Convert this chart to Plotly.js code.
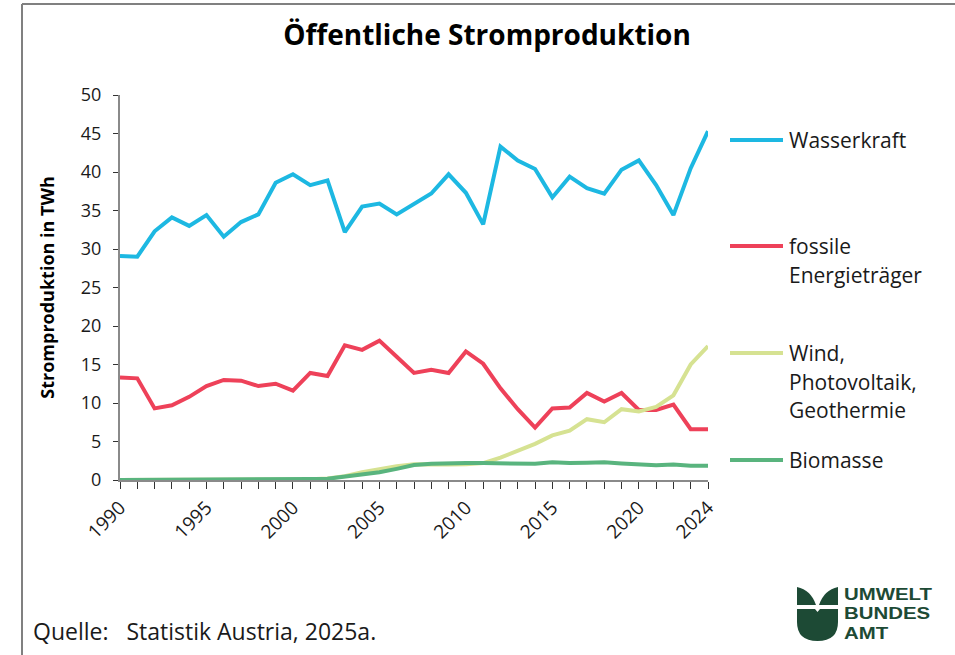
<!DOCTYPE html>
<html>
<head>
<meta charset="utf-8">
<script src="https://cdn.plot.ly/plotly-3.0.1.min.js"></script>
<style>
  html, body { margin: 0; padding: 0; background: #ffffff; }
  #wrap { position: relative; width: 955px; height: 655px; }
  #chart { width: 955px; height: 655px; }
  #logotext { position: absolute; left: 844px; top: 584.5px; font-family: "Liberation Sans", Arimo, Arial, sans-serif;
    font-weight: bold; font-size: 17px; line-height: 19.5px; color: #1d4a35;
    transform: scaleX(1.2); transform-origin: left top; }
  #logotext div { height: 19.5px; white-space: nowrap; }
</style>
</head>
<body>
<div id="wrap">
<div id="chart"></div>
<div id="logotext"></div>
</div>
<script>
// ---------- data ----------
const years = [1990,1991,1992,1993,1994,1995,1996,1997,1998,1999,2000,2001,2002,2003,2004,2005,2006,2007,2008,2009,2010,2011,2012,2013,2014,2015,2016,2017,2018,2019,2020,2021,2022,2023,2024];

const wasserkraft = [29.1,29.0,32.3,34.1,33.0,34.4,31.6,33.5,34.5,38.6,39.7,38.3,38.9,32.2,35.5,35.9,34.5,35.8,37.2,39.7,37.3,33.2,43.3,41.5,40.4,36.7,39.4,37.9,37.2,40.3,41.5,38.3,34.4,40.5,45.3];

const fossil = [13.3,13.2,9.3,9.7,10.8,12.2,13.0,12.9,12.2,12.5,11.6,13.9,13.5,17.5,16.9,18.1,16.0,13.9,14.3,13.9,16.7,15.1,11.9,9.2,6.8,9.3,9.4,11.3,10.2,11.3,9.1,9.1,9.8,6.6,6.6];

const windPvGeo = [0.0,0.0,0.0,0.0,0.0,0.0,0.01,0.02,0.03,0.05,0.07,0.1,0.2,0.5,1.0,1.4,1.8,2.05,2.0,2.0,2.05,2.2,2.9,3.8,4.7,5.8,6.4,7.9,7.5,9.2,8.9,9.5,11.0,15.0,17.4];

const biomasse = [0.0,0.0,0.0,0.0,0.0,0.01,0.02,0.03,0.05,0.08,0.1,0.13,0.16,0.4,0.7,1.0,1.45,1.95,2.1,2.2,2.2,2.2,2.2,2.2,2.1,2.3,2.2,2.25,2.3,2.15,2.0,1.9,2.0,1.85,1.85];

const seriesNames = ["Wasserkraft", "fossile Energieträger", "Wind, Photovoltaik, Geothermie", "Biomasse"];
const legendLines = [["Wasserkraft"], ["fossile", "Energieträger"], ["Wind,", "Photovoltaik,", "Geothermie"], ["Biomasse"]];
const seriesColors = ["#1db8e2", "#ee4159", "#d6e292", "#59b47e"];

const xLabelYears = [1990, 1995, 2000, 2005, 2010, 2015, 2020, 2024];
const yTicks = [0, 5, 10, 15, 20, 25, 30, 35, 40, 45, 50];

const titleText = "Öffentliche Stromproduktion";
const yTitleText = "Stromproduktion in TWh";
const sourceText = "Quelle:&nbsp;&nbsp; Statistik Austria, 2025a.";
const logoLines = ["UMWELT", "BUNDES", "AMT"];

// ---------- geometry helpers (pixel -> paper) ----------
const W = 955, H = 655, mL = 120, mR = 247, mT = 95, mB = 175;
const pw = W - mL - mR, ph = H - mT - mB;
const px = p => (p - mL) / pw;
const py = p => (H - mB - p) / ph;

const FONT = "Open Sans, Noto Sans, DejaVu Sans, sans-serif";

const seriesData = [wasserkraft, fossil, windPvGeo, biomasse];
const traces = seriesData.map((vals, i) => ({
  type: "scatter",
  mode: "lines",
  x: years,
  y: vals,
  name: seriesNames[i],
  line: { color: seriesColors[i], width: 4 },
  showlegend: false,
  hoverinfo: "x+y+name"
}));

// legend (drawn as shapes + annotations)
const legendY = [140, 246, 353, 460];
const lineStep = 28.5;
const shapes = [];
const annotations = [];
legendLines.forEach((lines, i) => {
  shapes.push({
    type: "line", xref: "paper", yref: "paper",
    x0: px(730), x1: px(783), y0: py(legendY[i]), y1: py(legendY[i]),
    line: { color: seriesColors[i], width: 4 }
  });
  lines.forEach((t, j) => {
    annotations.push({
      text: t, xref: "paper", yref: "paper",
      x: px(787), y: py(legendY[i] + j * lineStep),
      xanchor: "left", yanchor: "middle", showarrow: false,
      font: { family: FONT, size: 21, color: "#1a1a1a" }
    });
  });
});

// source
annotations.push({
  text: sourceText, xref: "paper", yref: "paper",
  x: px(31), y: py(631), xanchor: "left", yanchor: "middle", showarrow: false,
  font: { family: FONT, size: 23, color: "#1a1a1a" }
});

// logo text (HTML overlay for tight line spacing)
document.getElementById("logotext").innerHTML = logoLines.map(t => "<div>" + t + "</div>").join("");

// frame lines
shapes.push({ type: "line", xref: "paper", yref: "paper", x0: px(22), x1: px(22), y0: py(4), y1: py(655), line: { color: "#808080", width: 2 } });
shapes.push({ type: "line", xref: "paper", yref: "paper", x0: px(22), x1: px(955), y0: py(4), y1: py(4), line: { color: "#808080", width: 2 } });

// logo icon (paths in pixel space converted to paper)
function pathPx(cmds) {
  return cmds.map(c => {
    if (typeof c === "string") return c;
    return px(c[0]).toFixed(5) + "," + py(c[1]).toFixed(5);
  }).join(" ");
}
const logoColor = "#1d4a35";
// left leaf
shapes.push({ type: "path", xref: "paper", yref: "paper", fillcolor: logoColor, line: { width: 0 },
  path: "M" + pathPx([[797, 587], "Q", [811, 590], [816, 605], "L", [797, 605], "Z"]) });
// right leaf
shapes.push({ type: "path", xref: "paper", yref: "paper", fillcolor: logoColor, line: { width: 0 },
  path: "M" + pathPx([[838, 587], "Q", [824, 590], [819, 605], "L", [838, 605], "Z"]) });
// bowl
shapes.push({ type: "path", xref: "paper", yref: "paper", fillcolor: logoColor, line: { width: 0 },
  path: "M" + pathPx([[797, 609], "L", [815, 609], "L", [817.5, 612], "L", [820, 609], "L", [838, 609], "L", [838, 622], "Q", [838, 641], [817.5, 641], "Q", [797, 641], [797, 622], "Z"]) });

const layout = {
  width: W, height: H,
  margin: { l: mL, r: mR, t: mT, b: mB, pad: 0 },
  paper_bgcolor: "#ffffff",
  plot_bgcolor: "#ffffff",
  title: {
    text: "<b>" + titleText + "</b>",
    xref: "container", x: 0.51, xanchor: "center",
    yref: "container", y: 1 - 35 / H, yanchor: "middle",
    font: { family: FONT, size: 28, color: "#000000" }
  },
  xaxis: {
    range: [1990, 2024],
    tickmode: "array",
    tickvals: years,
    ticktext: years.map(y => xLabelYears.includes(y) ? String(y) : ""),
    tickangle: -45,
    ticks: "outside", ticklen: 7, tickwidth: 1, tickcolor: "#333333",
    showline: true, linecolor: "#8a8a8a", linewidth: 2,
    showgrid: false, zeroline: false,
    tickfont: { family: FONT, size: 19, color: "#1a1a1a" },
    fixedrange: true
  },
  yaxis: {
    range: [0, 50],
    tickmode: "array",
    tickvals: yTicks,
    ticktext: yTicks.map(String),
    ticks: "outside", ticklen: 5, tickwidth: 1, tickcolor: "#333333",
    showline: true, linecolor: "#8a8a8a", linewidth: 2,
    showgrid: false, zeroline: false,
    ticklabelstandoff: 8,
    tickfont: { family: FONT, size: 18, color: "#1a1a1a" },
    title: { text: "<b>" + yTitleText + "</b>", standoff: 22, font: { family: FONT, size: 18, color: "#000000" } },
    automargin: false,
    fixedrange: true
  },
  shapes: shapes,
  annotations: annotations,
  showlegend: false
};

Plotly.newPlot("chart", traces, layout, { displayModeBar: false, staticPlot: true });
</script>
</body>
</html>
